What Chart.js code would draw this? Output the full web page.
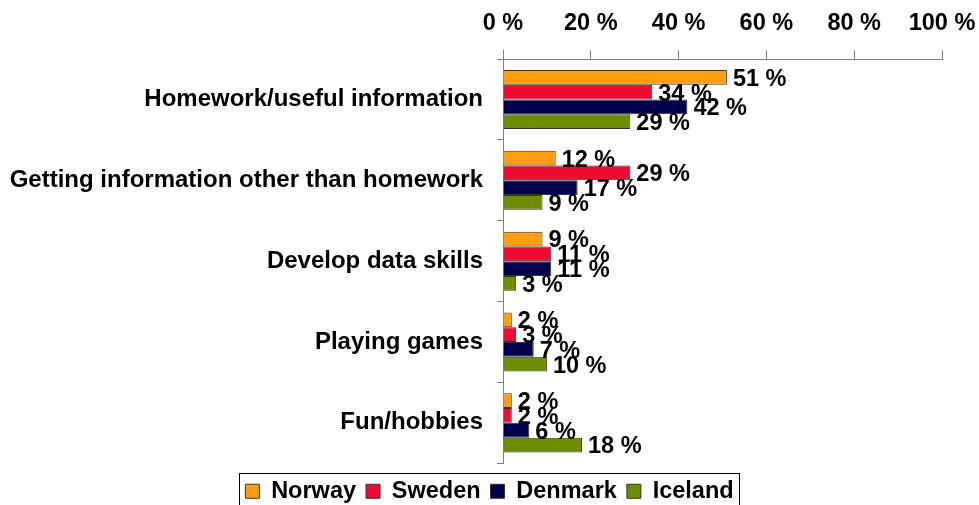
<!DOCTYPE html>
<html>
<head>
<meta charset="utf-8">
<script src="https://cdn.jsdelivr.net/npm/chart.js@4"></script>
<style>
  html, body { margin: 0; padding: 0; background: #fff; }
  #wrap { width: 979px; height: 505px; position: relative; }
</style>
</head>
<body>
<div id="wrap"><canvas id="chart"></canvas></div>
<script>
// Categorias e valores (%)
const categories = [
    'Homework/useful information',
    'Getting information other than homework',
    'Develop data skills',
    'Playing games',
    'Fun/hobbies'
];
const norway = [51, 12, 9, 2, 2];
const sweden = [34, 29, 11, 3, 2];
const denmark = [42, 17, 11, 7, 6];
const iceland = [29, 9, 3, 10, 18];
const xTicks = [0, 20, 40, 60, 80, 100];

const FONT = 'Arial, "Liberation Sans", sans-serif';
const FSIZE = 23.5;

// Rótulos de valor no fim de cada barra
const valueLabels = {
    id: 'valueLabels',
    afterDatasetsDraw(chart) {
        const ctx = chart.ctx;
        ctx.save();
        ctx.font = 'bold ' + FSIZE + 'px ' + FONT;
        ctx.fillStyle = '#000';
        ctx.textBaseline = 'middle';
        ctx.textAlign = 'left';
        chart.data.datasets.forEach((ds, i) => {
            chart.getDatasetMeta(i).data.forEach((bar, j) => {
                ctx.fillText(ds.data[j] + ' %', bar.x + 6, bar.y + 2);
            });
        });
        ctx.restore();
    }
};

// Moldura em volta da legenda
const legendFrame = {
    id: 'legendFrame',
    afterDraw(chart) {
        const boxes = chart.legend.legendHitBoxes;
        if (!boxes || !boxes.length) return;
        const first = boxes[0];
        const last = boxes[boxes.length - 1];
        const ctx = chart.ctx;
        ctx.save();
        ctx.strokeStyle = '#000';
        ctx.lineWidth = 1;
        ctx.strokeRect(Math.round(first.left - 6) + 0.5, Math.round(first.top - 7) + 0.5,
            Math.round(last.left + last.width - first.left + 12), 50);
        ctx.restore();
    }
};

new Chart(document.getElementById('chart'), {
    type: 'bar',
    data: {
        labels: categories,
        datasets: [
            { label: 'Norway', data: norway, backgroundColor: '#FF9E10' },
            { label: 'Sweden', data: sweden, backgroundColor: '#EE0A30' },
            { label: 'Denmark', data: denmark, backgroundColor: '#00004A' },
            { label: 'Iceland', data: iceland, backgroundColor: '#6E8C00' }
        ].map(d => Object.assign(d, {
            borderColor: '#333',
            borderWidth: 1,
            categoryPercentage: 0.73,
            barPercentage: 1
        }))
    },
    options: {
        indexAxis: 'y', // barras horizontais
        responsive: true,
        maintainAspectRatio: false,
        animation: false,
        layout: { padding: { top: 0, right: 0, left: 0, bottom: -8 } },
        scales: {
            x: {
                position: 'top',
                min: 0,
                max: 100,
                afterBuildTicks(axis) {
                    axis.ticks = xTicks.map(v => ({ value: v }));
                },
                afterFit(axis) {
                    axis.height = 59;
                    axis.paddingLeft = 0;
                    axis.paddingRight = 0;
                },
                ticks: {
                    color: '#000',
                    font: { family: FONT, size: FSIZE, weight: 'bold' },
                    padding: 12,
                    maxRotation: 0,
                    autoSkip: false,
                    callback: v => v + ' %'
                },
                grid: {
                    drawOnChartArea: false,
                    drawTicks: true,
                    tickLength: 9,
                    color: '#808080'
                },
                border: { color: '#808080', width: 1 }
            },
            y: {
                afterFit(axis) {
                    axis.width = 503;
                },
                ticks: {
                    color: '#000',
                    font: { family: FONT, size: 24, weight: 'bold' },
                    padding: 14
                },
                grid: {
                    offset: true,
                    drawOnChartArea: false,
                    tickLength: 6,
                    color: '#808080'
                },
                border: { color: '#808080', width: 1 }
            },
            // eixo vazio só para reservar a margem direita
            yR: {
                type: 'linear',
                position: 'right',
                display: true,
                afterFit(axis) {
                    axis.width = 37;
                },
                ticks: { display: false },
                grid: { display: false },
                border: { display: false }
            }
        },
        plugins: {
            legend: {
                position: 'bottom',
                title: {
                    display: true,
                    text: '',
                    font: { size: 1 },
                    padding: { top: 5, bottom: 0 }
                },
                labels: {
                    color: '#000',
                    font: { family: FONT, size: FSIZE, weight: 'bold' },
                    boxWidth: 14,
                    boxHeight: 14,
                    padding: 10,
                    useBorderRadius: false
                }
            },
            tooltip: { enabled: false }
        }
    },
    plugins: [valueLabels, legendFrame]
});
</script>
</body>
</html>
